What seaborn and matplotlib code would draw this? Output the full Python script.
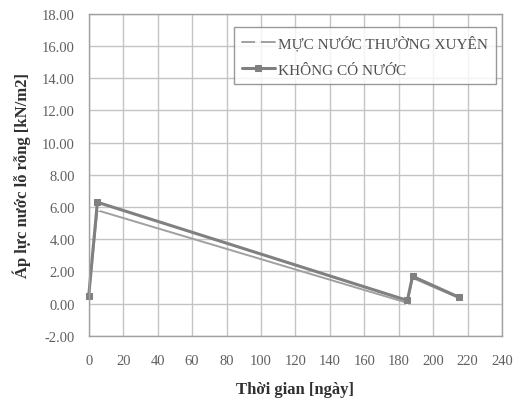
import matplotlib
matplotlib.use("Agg")
import matplotlib.pyplot as plt
import seaborn as sns
import pandas as pd

days_thuong_xuyen = [0, 5, 185, 188, 215]
values_thuong_xuyen = [0.5, 5.8, 0.05, 1.6, 0.35]
days_khong_nuoc = [0, 5, 185, 188, 215]
values_khong_nuoc = [0.5, 6.3, 0.2, 1.7, 0.4]
label_thuong_xuyen = "MỰC NƯỚC THƯỜNG XUYÊN"
label_khong_nuoc = "KHÔNG CÓ NƯỚC"
x_ticks = list(range(0, 241, 20))
y_ticks = [-2, 0, 2, 4, 6, 8, 10, 12, 14, 16, 18]

sns.set_theme(style="white")
plt.rcParams['font.family'] = ['Liberation Serif', 'DejaVu Serif']

df1 = pd.DataFrame({"day": days_thuong_xuyen, "val": values_thuong_xuyen})
df2 = pd.DataFrame({"day": days_khong_nuoc, "val": values_khong_nuoc})

fig = plt.figure(figsize=(5.16, 4.02), dpi=100)
ax = fig.add_axes([0.172, 0.162, 0.801, 0.801])

sns.lineplot(data=df1, x="day", y="val", ax=ax, color="#a0a0a0", lw=1.4,
             marker="+", markersize=5, markeredgewidth=1.2, label=label_thuong_xuyen,
             clip_on=False)
sns.lineplot(data=df2, x="day", y="val", ax=ax, color="#808080", lw=2.2,
             marker="s", markersize=4, markeredgecolor="#808080", label=label_khong_nuoc,
             clip_on=False)

ax.set_xlim(0, 240)
ax.set_ylim(-2, 18)
ax.set_xticks(x_ticks)
ax.set_yticks(y_ticks)
ax.set_yticklabels([f"{v:.2f}" for v in y_ticks])
ax.grid(True, color="#c4c4c4", lw=1.0)
for s in ax.spines.values():
    s.set_color("#a0a0a0")
    s.set_linewidth(1.0)
ax.tick_params(axis="y", labelsize=10.5, colors="#606060", length=0, pad=10)
ax.tick_params(axis="x", labelsize=10.5, colors="#606060", length=0, pad=13)
ax.set_xlabel("Thời gian [ngày]", fontsize=12, fontweight="bold", color="#303030", labelpad=10)
ax.set_ylabel("Áp lực nước lỗ rỗng [kN/m2]", fontsize=12, fontweight="bold", color="#303030", labelpad=8)

leg = ax.legend(loc="upper right", bbox_to_anchor=(0.985, 0.96), fontsize=11,
                frameon=True, fancybox=False, borderpad=0.5, handlelength=2.2,
                handletextpad=0.2, labelspacing=0.85, borderaxespad=0.0)
leg.get_frame().set_edgecolor("#808080")
leg.get_frame().set_linewidth(1.0)
for t in leg.get_texts():
    t.set_color("#505050")

fig.savefig("out.png", dpi=100)
